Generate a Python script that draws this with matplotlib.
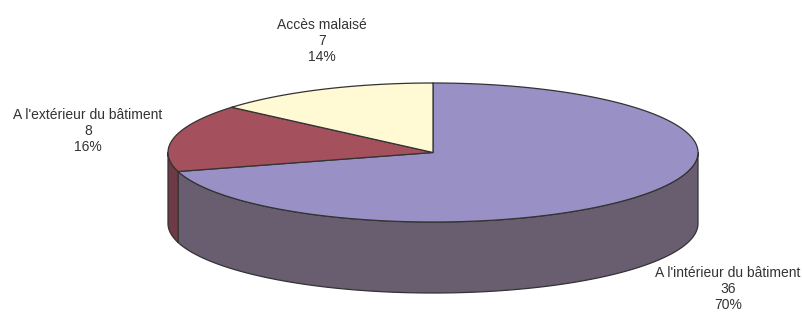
import numpy as np
import matplotlib
matplotlib.use("Agg")
import matplotlib.pyplot as plt
from matplotlib.patches import Polygon

labels = ["A l'intérieur du bâtiment", "A l'extérieur du bâtiment", "Accès malaisé"]
values = [36, 8, 7]
percents = [70, 16, 14]
top_colors = ["#9991C6", "#A5505D", "#FFFAD4"]
side_colors = ["#695D70", "#6E3A45", "#AAA68C"]

W, H = 803, 313
fig = plt.figure(figsize=(W / 100, H / 100), dpi=100)
ax = fig.add_axes([0, 0, 1, 1])
ax.set_xlim(0, W)
ax.set_ylim(H, 0)
ax.axis("off")

cx, cy, rx, ry, depth = 433, 152.5, 265, 69.5, 71
edge = "#333333"
lw = 0.9

total = sum(values)
fracs = [v / total for v in values]
# slices go clockwise from 12 o'clock
a = 90.0
spans = []
for f in fracs:
    spans.append((a - 360 * f, a))
    a -= 360 * f


def pt(t, dz=0.0):
    r = np.radians(t)
    return cx + rx * np.cos(r), cy - ry * np.sin(r) + dz


# side walls: visible front part (180..360 deg)
for (a1, a2), sc in zip(spans, side_colors):
    for shift in (0, 360, -360):
        lo, hi = a1 + shift, a2 + shift
        lo2, hi2 = max(lo, 180), min(hi, 360)
        if hi2 > lo2:
            ts = np.linspace(lo2, hi2, 200)
            top = [pt(t) for t in ts]
            bot = [pt(t, depth) for t in ts[::-1]]
            ax.add_patch(Polygon(top + bot, closed=True, facecolor=sc,
                                 edgecolor=edge, linewidth=lw, joinstyle="round"))

# top faces
for (a1, a2), tc in zip(spans, top_colors):
    ts = np.linspace(a1, a2, 300)
    poly = [(cx, cy)] + [pt(t) for t in ts]
    ax.add_patch(Polygon(poly, closed=True, facecolor=tc, edgecolor=edge,
                         linewidth=lw, joinstyle="round"))

label_pos = [(728, 289), (88, 131), (322, 41)]
for lab, v, p, (x, y) in zip(labels, values, percents, label_pos):
    ax.text(x, y, f"{lab}\n{v}\n{p}%", ha="center", va="center",
            fontsize=10, family=["Liberation Sans", "DejaVu Sans"],
            color="#333333", linespacing=1.22)

fig.savefig("out.png", dpi=100, facecolor="white")
